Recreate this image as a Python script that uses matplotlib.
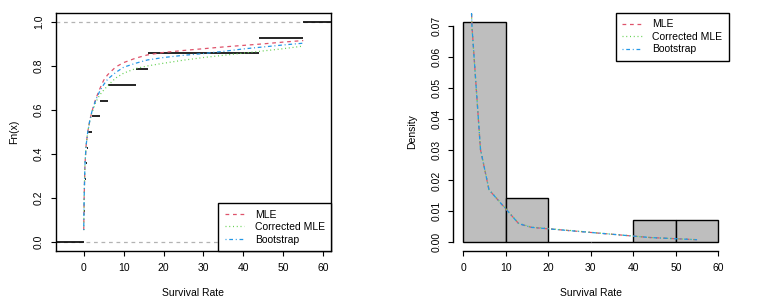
import numpy as np
import matplotlib
matplotlib.use("Agg")
import matplotlib.pyplot as plt

plt.rcParams['font.family'] = ['Liberation Sans', 'DejaVu Sans']
plt.rcParams['font.size'] = 7.5

# observed survival rates (14 values)
survival = [0.0, 0.1, 0.2, 0.3, 0.5, 0.7, 1, 2, 4, 6, 13, 16, 44, 55]
hist_breaks = [0, 10, 20, 30, 40, 50, 60]

# fitted CDFs
cdf_x = [0, 0.1, 0.3, 0.6, 1, 1.5, 2, 3, 4, 5, 6, 8, 10, 13, 16, 20, 25, 30, 35, 40, 45, 50, 55]
cdf_mle = [0.055, 0.20, 0.35, 0.44, 0.50, 0.55, 0.59, 0.65, 0.695, 0.735, 0.76, 0.795, 0.815,
           0.835, 0.85, 0.861, 0.870, 0.878, 0.886, 0.893, 0.900, 0.908, 0.915]
cdf_cmle = [0.055, 0.20, 0.35, 0.44, 0.50, 0.55, 0.585, 0.635, 0.668, 0.69, 0.71, 0.745, 0.767,
            0.788, 0.80, 0.812, 0.826, 0.838, 0.848, 0.858, 0.868, 0.878, 0.89]
cdf_boot = [0.055, 0.20, 0.35, 0.44, 0.50, 0.55, 0.59, 0.645, 0.685, 0.715, 0.74, 0.77, 0.794,
            0.812, 0.827, 0.838, 0.848, 0.856, 0.866, 0.877, 0.886, 0.895, 0.903]

# fitted densities
dens_x = [1, 2, 4, 6, 13, 16, 44, 55]
dens_mle = [0.113, 0.070, 0.030, 0.017, 0.0060, 0.0048, 0.0015, 0.0008]
dens_cmle = [0.112, 0.0695, 0.0302, 0.0171, 0.0061, 0.0049, 0.0015, 0.0008]
dens_boot = [0.1125, 0.0698, 0.0301, 0.0170, 0.0060, 0.0048, 0.0015, 0.0008]

labels = ['MLE', 'Corrected MLE', 'Bootstrap']
colors = ['#DF536B', '#61D04F', '#2297E6']
dashes = [(3, 3), (0.8, 2.2), (0.8, 2.2, 3, 2.2)]

W, H = 759, 305
fig = plt.figure(figsize=(W / 100, H / 100), dpi=100)
ax1 = fig.add_axes([56 / W, (H - 251) / H, 275 / W, 238 / H])
ax2 = fig.add_axes([453.3 / W, (H - 251) / H, 275.2 / W, 238 / H])


def style_ticks(ax):
    ax.tick_params(direction='out', length=3.6, width=0.8, pad=5, labelsize=7.5, color='black')
    for lab in ax.get_yticklabels():
        lab.set_rotation(90)
        lab.set_va('center')


def make_legend(ax, loc):
    leg = ax.legend(loc=loc, borderaxespad=0, fancybox=False, framealpha=1, edgecolor='black',
                    handlelength=1.9, handletextpad=1.0, labelspacing=0.25, borderpad=0.6,
                    fontsize=7.5)
    leg.get_frame().set_linewidth(1.0)


# ---- left: empirical CDF with fitted CDFs
xs = np.sort(np.array(survival))
n = len(xs)
lo, hi = -6.95, 61.95
ax1.hlines(0, lo - 10, xs[0], color='black', lw=1.2)
ax1.hlines(np.arange(1, n) / n, xs[:-1], xs[1:], color='black', lw=1.2)
ax1.hlines(1, xs[-1], hi + 10, color='black', lw=1.2)
ax1.axhline(0, color='#B3B3B3', lw=0.9, dashes=(3, 3), zorder=0)
ax1.axhline(1, color='#B3B3B3', lw=0.9, dashes=(3, 3), zorder=0)
for yv, lab, c, d in zip([cdf_mle, cdf_cmle, cdf_boot], labels, colors, dashes):
    ax1.plot(cdf_x, yv, color=c, lw=0.9, dashes=d, label=lab)
ax1.set_xlim(lo, hi)
ax1.set_ylim(-0.04, 1.04)
ax1.set_xticks([0, 10, 20, 30, 40, 50, 60])
ax1.set_yticks([0, 0.2, 0.4, 0.6, 0.8, 1.0])
ax1.set_yticklabels(['0.0', '0.2', '0.4', '0.6', '0.8', '1.0'])
ax1.set_xlabel('Survival Rate', labelpad=11)
ax1.set_ylabel('Fn(x)', labelpad=11)
for s in ax1.spines.values():
    s.set_linewidth(1.0)
style_ticks(ax1)
make_legend(ax1, 'lower right')

# ---- right: histogram with fitted densities
ax2.hist(survival, bins=hist_breaks, density=True, color='#BEBEBE', edgecolor='black', linewidth=1.0)
for yv, lab, c, d in zip([dens_mle, dens_cmle, dens_boot], labels, colors, dashes):
    ax2.plot(dens_x, yv, color=c, lw=0.9, dashes=d, label=lab)
ax2.set_xlim(-2.4, 62.4)
ax2.set_ylim(-0.00286, 0.0743)
ax2.set_xticks([0, 10, 20, 30, 40, 50, 60])
ax2.set_yticks([0, 0.01, 0.02, 0.03, 0.04, 0.05, 0.06, 0.07])
ax2.set_yticklabels(['0.00', '0.01', '0.02', '0.03', '0.04', '0.05', '0.06', '0.07'])
ax2.set_xlabel('Survival Rate', labelpad=11)
ax2.set_ylabel('Density', labelpad=10)
ax2.spines['top'].set_visible(False)
ax2.spines['right'].set_visible(False)
ax2.spines['left'].set_bounds(0, 0.07)
ax2.spines['bottom'].set_bounds(0, 60)
for s in ax2.spines.values():
    s.set_linewidth(1.0)
style_ticks(ax2)
make_legend(ax2, 'upper right')

fig.savefig('out.png', dpi=100)
